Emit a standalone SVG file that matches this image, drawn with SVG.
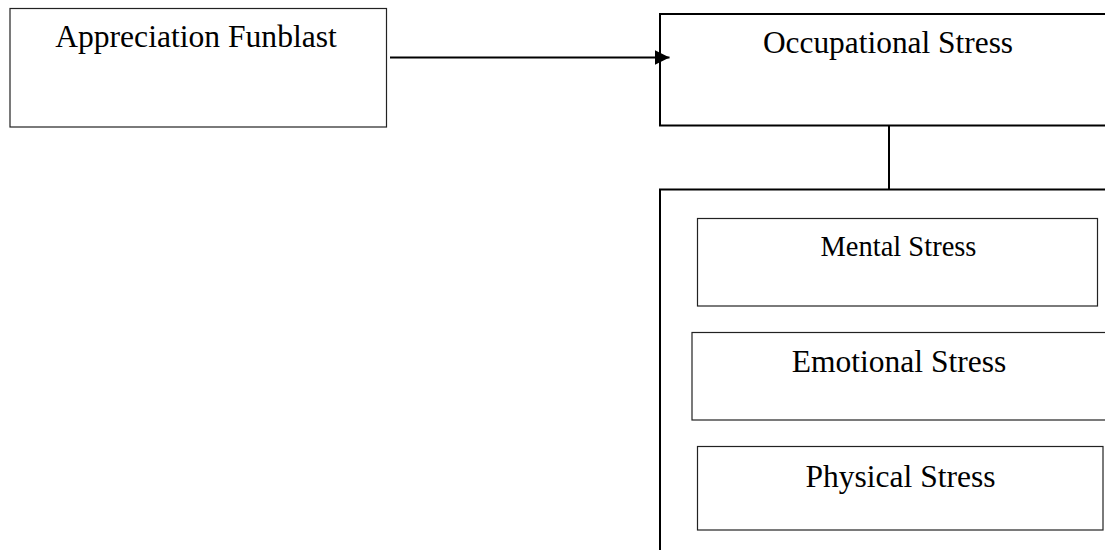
<svg xmlns="http://www.w3.org/2000/svg" width="1105" height="550" viewBox="0 0 1105 550">
<style>
  .box { fill: #ffffff; stroke: #000000; }
  .thin { stroke-width: 1.2; stroke: #222222; }
  .thick { stroke-width: 2; }
  .label { font-family: "Liberation Serif", "Times New Roman", serif; fill: #000000; text-anchor: middle; }
  .conn { stroke: #000000; stroke-width: 2; fill: none; }
</style>
<defs>
  <marker id="arrow" markerWidth="15" markerHeight="15" refX="15" refY="7.5" orient="auto" markerUnits="userSpaceOnUse">
    <path d="M0,0 L15,7.5 L0,15 Z" fill="#000000"/>
  </marker>
</defs>
<rect width="1105" height="550" fill="#ffffff"/>
<g id="appreciation-funblast">
  <rect class="box thin" x="10" y="8.5" width="376.5" height="118.5"/>
  <text class="label" x="196" y="47" font-size="31.6">Appreciation Funblast</text>
</g>
<g id="occupational-stress">
  <rect class="box thick" x="660" y="14" width="460" height="111.5"/>
  <text class="label" x="888" y="53" font-size="31.4">Occupational Stress</text>
</g>
<g id="stress-container">
  <rect class="box thick" x="660" y="189.5" width="460" height="380"/>
</g>
<g id="mental-stress">
  <rect class="box thin" x="697.5" y="218.5" width="400" height="87.5"/>
  <text class="label" x="898.5" y="256" font-size="28.5">Mental Stress</text>
</g>
<g id="emotional-stress">
  <rect class="box thin" x="692" y="332.5" width="430" height="87.5"/>
  <text class="label" x="899" y="372" font-size="31.5">Emotional Stress</text>
</g>
<g id="physical-stress">
  <rect class="box thin" x="697.5" y="446.5" width="405.5" height="83.5"/>
  <text class="label" x="900.5" y="486.5" font-size="31.5">Physical Stress</text>
</g>
<g id="connectors">
  <line class="conn" x1="390" y1="57.5" x2="669.5" y2="57.5" marker-end="url(#arrow)"/>
  <line class="conn" x1="889" y1="125.5" x2="889" y2="189.5"/>
</g>
</svg>
